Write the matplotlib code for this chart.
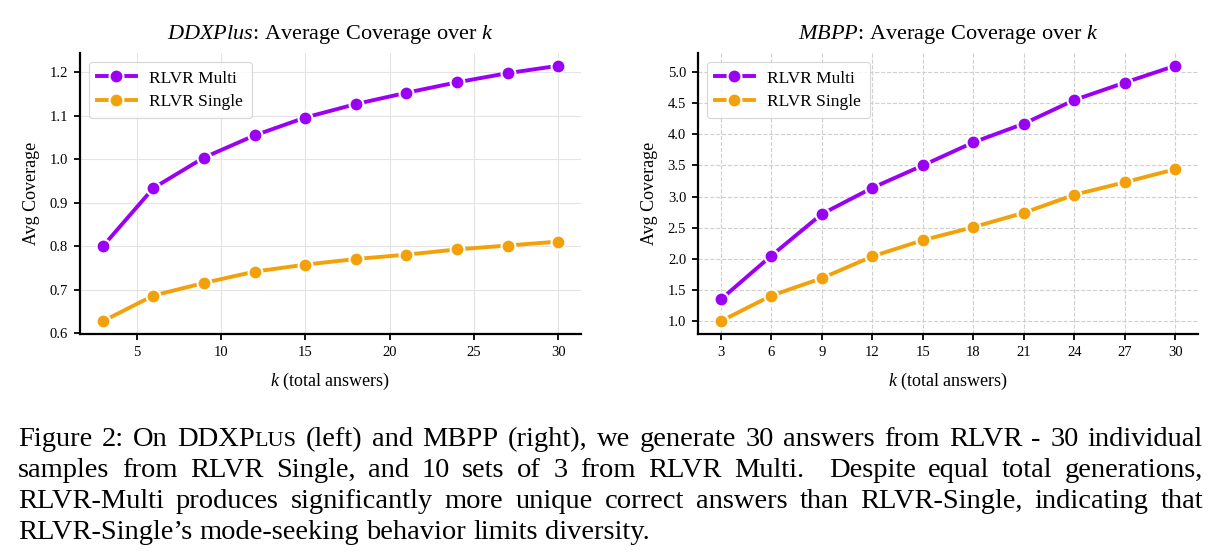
import matplotlib
matplotlib.use("Agg")
import matplotlib.pyplot as plt
from matplotlib.ticker import MultipleLocator, FormatStrFormatter

plt.rcParams['font.family'] = ['Liberation Serif', 'DejaVu Serif']
plt.rcParams['mathtext.fontset'] = 'custom'
plt.rcParams['mathtext.rm'] = 'Liberation Serif'
plt.rcParams['mathtext.it'] = 'Liberation Serif:italic'

# data
k_values = [3, 6, 9, 12, 15, 18, 21, 24, 27, 30]
ddx_multi = [0.800, 0.934, 1.004, 1.055, 1.096, 1.127, 1.153, 1.177, 1.198, 1.215]
ddx_single = [0.628, 0.687, 0.716, 0.742, 0.758, 0.771, 0.781, 0.793, 0.802, 0.811]
mbpp_multi = [1.35, 2.05, 2.72, 3.14, 3.50, 3.87, 4.17, 4.55, 4.83, 5.10]
mbpp_single = [1.00, 1.41, 1.69, 2.04, 2.30, 2.51, 2.74, 3.03, 3.23, 3.44]
series_labels = ['RLVR Multi', 'RLVR Single']
panel_titles = [r'$\it{DDXPlus}$: Average Coverage over $k$',
                r'$\it{MBPP}$: Average Coverage over $k$']

caption_lines = [
    "Figure 2: On DDXPLUS (left) and MBPP (right), we generate 30 answers from RLVR - 30 individual",
    "samples from RLVR Single, and 10 sets of 3 from RLVR Multi.  Despite equal total generations,",
    "RLVR-Multi produces significantly more unique correct answers than RLVR-Single, indicating that",
    "RLVR-Single\u2019s mode-seeking behavior limits diversity.",
]
small_caps = {"DDXPLUS": [("DDXP", 1.0), ("LUS", 0.78)]}

PURPLE = '#9b00f5'
ORANGE = '#f3a10a'

W, H = 1222, 559
fig = plt.figure(figsize=(W / 100, H / 100), dpi=100)
ax1 = fig.add_axes([80 / W, 1 - 334 / H, 501 / W, 281 / H])
ax2 = fig.add_axes([698 / W, 1 - 334 / H, 500 / W, 281 / H])


def draw_panel(ax, multi, single, title, grid_style):
    for vals, color, lab in [(multi, PURPLE, series_labels[0]), (single, ORANGE, series_labels[1])]:
        ax.plot(k_values, vals, color=color, lw=2.8, marker='o', ms=10,
                mec='white', mew=1.5, label=lab, zorder=3)
    ax.set_title(title, fontsize=16, pad=10)
    ax.set_xlabel(r'$k$ (total answers)', fontsize=13, labelpad=9)
    ax.set_ylabel('Avg Coverage', fontsize=13, labelpad=7)
    ax.spines['top'].set_visible(False)
    ax.spines['right'].set_visible(False)
    for s in ['left', 'bottom']:
        ax.spines[s].set_linewidth(1.6)
    ax.tick_params(direction='out', length=4.5, width=1.3, labelsize=10.5, pad=4)
    if grid_style == 'solid':
        ax.grid(True, color='#e4e4e4', lw=0.8, ls='-')
    else:
        ax.grid(True, color='#cfcfcf', lw=0.8, ls='--')
    ax.set_axisbelow(True)
    leg = ax.legend(loc='upper left', fontsize=12.5, frameon=True, fancybox=True,
                    borderpad=0.5, handlelength=2.2, labelspacing=0.4,
                    borderaxespad=0.5)
    leg.get_frame().set_edgecolor('#cccccc')
    leg.get_frame().set_linewidth(0.8)


draw_panel(ax1, ddx_multi, ddx_single, panel_titles[0], 'solid')
draw_panel(ax2, mbpp_multi, mbpp_single, panel_titles[1], 'dashed')
ax2.set_xticks(k_values)
ax2.yaxis.set_major_locator(MultipleLocator(0.5))
ax2.yaxis.set_major_formatter(FormatStrFormatter('%.1f'))

# justified caption, word by word
renderer = fig.canvas.get_renderer()


def text_width(txt, size):
    t = fig.text(0, 0, txt, fontsize=size)
    w = t.get_window_extent(renderer).width
    t.remove()
    return w


cap_size = 20.5
x_left, x_right = 18, 1203
baselines = [446, 477, 508, 539]
space = text_width('a a', cap_size) - text_width('aa', cap_size)
for i, line in enumerate(caption_lines):
    pieces = [small_caps.get(w, [(w, 1.0)]) for w in line.split(' ')]
    widths = [sum(text_width(txt, cap_size * sc) for txt, sc in parts) for parts in pieces]
    last = i == len(caption_lines) - 1
    n_gaps = len(pieces) - 1
    if last or n_gaps == 0:
        gap = space
    else:
        gap = (x_right - x_left - sum(widths)) / n_gaps
    x = x_left
    for parts, wd in zip(pieces, widths):
        xx = x
        for txt, sc in parts:
            fig.text(xx / W, 1 - baselines[i] / H, txt, fontsize=cap_size * sc,
                     va='baseline', ha='left')
            xx += text_width(txt, cap_size * sc)
        x += wd + gap

fig.savefig('out.png', dpi=100)
